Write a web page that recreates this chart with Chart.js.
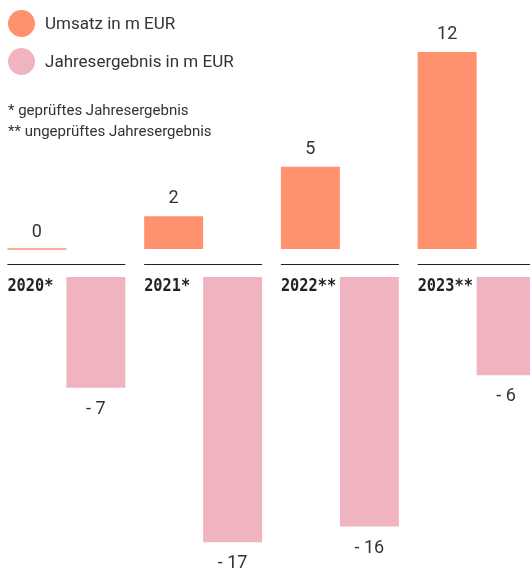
<!DOCTYPE html>
<html>
<head>
<meta charset="utf-8">
<script src="https://cdn.jsdelivr.net/npm/chart.js@4"></script>
<style>
  html, body { margin: 0; padding: 0; background: #fff; }
  #wrap { position: relative; width: 530px; height: 574px; overflow: hidden; }
  #chart { position: absolute; left: -2px; top: 0; }
  .item { position: absolute; left: 8px; height: 27px; font: 17px Roboto, sans-serif; color: #333; line-height: 27px; white-space: nowrap; }
  .dot { position: absolute; left: 0; top: 0; width: 27px; height: 27px; border-radius: 50%; }
  .item span { position: absolute; left: 37px; top: 0; }
  .notes { position: absolute; left: 8px; top: 100px; font: 15px Roboto, sans-serif; color: #333; line-height: 21px; white-space: nowrap; }
</style>
</head>
<body>
<div id="wrap">
  <canvas id="chart" width="547" height="574"></canvas>
  <div id="legend"></div>
  <div class="notes">* geprüftes Jahresergebnis<br>** ungeprüftes Jahresergebnis</div>
</div>
<script>
// data
const years = ['2020*', '2021*', '2022**', '2023**'];
const umsatz = [0, 2.0, 5.0, 12.0];
const ergebnis = [-7.1, -17.0, -16.0, -6.3];
const seriesNames = ['Umsatz in m EUR', 'Jahresergebnis in m EUR'];
const colors = ['#FF916E', '#F0B4C0'];

// simple html legend
const legend = document.getElementById('legend');
seriesNames.forEach((name, i) => {
  const row = document.createElement('div');
  row.className = 'item';
  row.style.top = (10 + i * 38) + 'px';
  row.innerHTML = '<div class="dot" style="background:' + colors[i] + '"></div><span>' + name + '</span>';
  legend.appendChild(row);
});

const labelsPlugin = {
  id: 'valueLabels',
  afterDatasetsDraw(chart) {
    const ctx = chart.ctx;
    const m0 = chart.getDatasetMeta(0).data;
    const m1 = chart.getDatasetMeta(1).data;
    const uZero = chart.scales.yU.getPixelForValue(0);
    const jZero = chart.scales.yJ.getPixelForValue(0);
    ctx.save();
    ctx.font = '18px Roboto, sans-serif';
    ctx.fillStyle = '#333';
    ctx.textAlign = 'center';
    ctx.textBaseline = 'alphabetic';
    m0.forEach((bar, i) => {
      ctx.fillText(String(Math.round(umsatz[i])), bar.x, bar.y - 13);
    });
    m1.forEach((bar, i) => {
      ctx.fillText('- ' + Math.abs(Math.round(ergebnis[i])), bar.x, bar.y + 26);
    });

    // separator line + year label per group
    ctx.strokeStyle = '#222';
    ctx.lineWidth = 1;
    ctx.font = 'bold 17px "DejaVu Sans Mono", monospace';
    ctx.fillStyle = '#222';
    ctx.textAlign = 'left';
    years.forEach((y, i) => {
      const left = m0[i].x - m0[i].width / 2;
      const right = m1[i].x + m1[i].width / 2;
      const ly = Math.round(uZero + 15) + 0.5;
      ctx.beginPath();
      ctx.moveTo(left, ly);
      ctx.lineTo(right, ly);
      ctx.stroke();
      // the original face is a bit narrower, squeeze it
      ctx.save();
      ctx.translate(left, jZero + 14);
      ctx.scale(0.9, 1);
      ctx.fillText(y, 0, 0);
      ctx.restore();
    });
    ctx.restore();
  }
};

new Chart(document.getElementById('chart'), {
  type: 'bar',
  data: {
    labels: years,
    datasets: [{
      label: seriesNames[0],
      data: umsatz,
      backgroundColor: colors[0],
      yAxisID: 'yU',
      minBarLength: 1.5
    }, {
      label: seriesNames[1],
      data: ergebnis,
      backgroundColor: colors[1],
      yAxisID: 'yJ'
    }]
  },
  options: {
    responsive: false,
    animation: false,
    layout: { padding: 0 },
    barPercentage: 1,
    categoryPercentage: 0.8626,
    plugins: {
      legend: { display: false },
      tooltip: { enabled: false }
    },
    scales: {
      x: { display: false },
      // two value axes so each series gets its own baseline
      yU: { display: false, min: -19.79, max: 15.16 },
      yJ: { display: false, min: -19.04, max: 17.76 }
    }
  },
  plugins: [labelsPlugin]
});
</script>
</body>
</html>
